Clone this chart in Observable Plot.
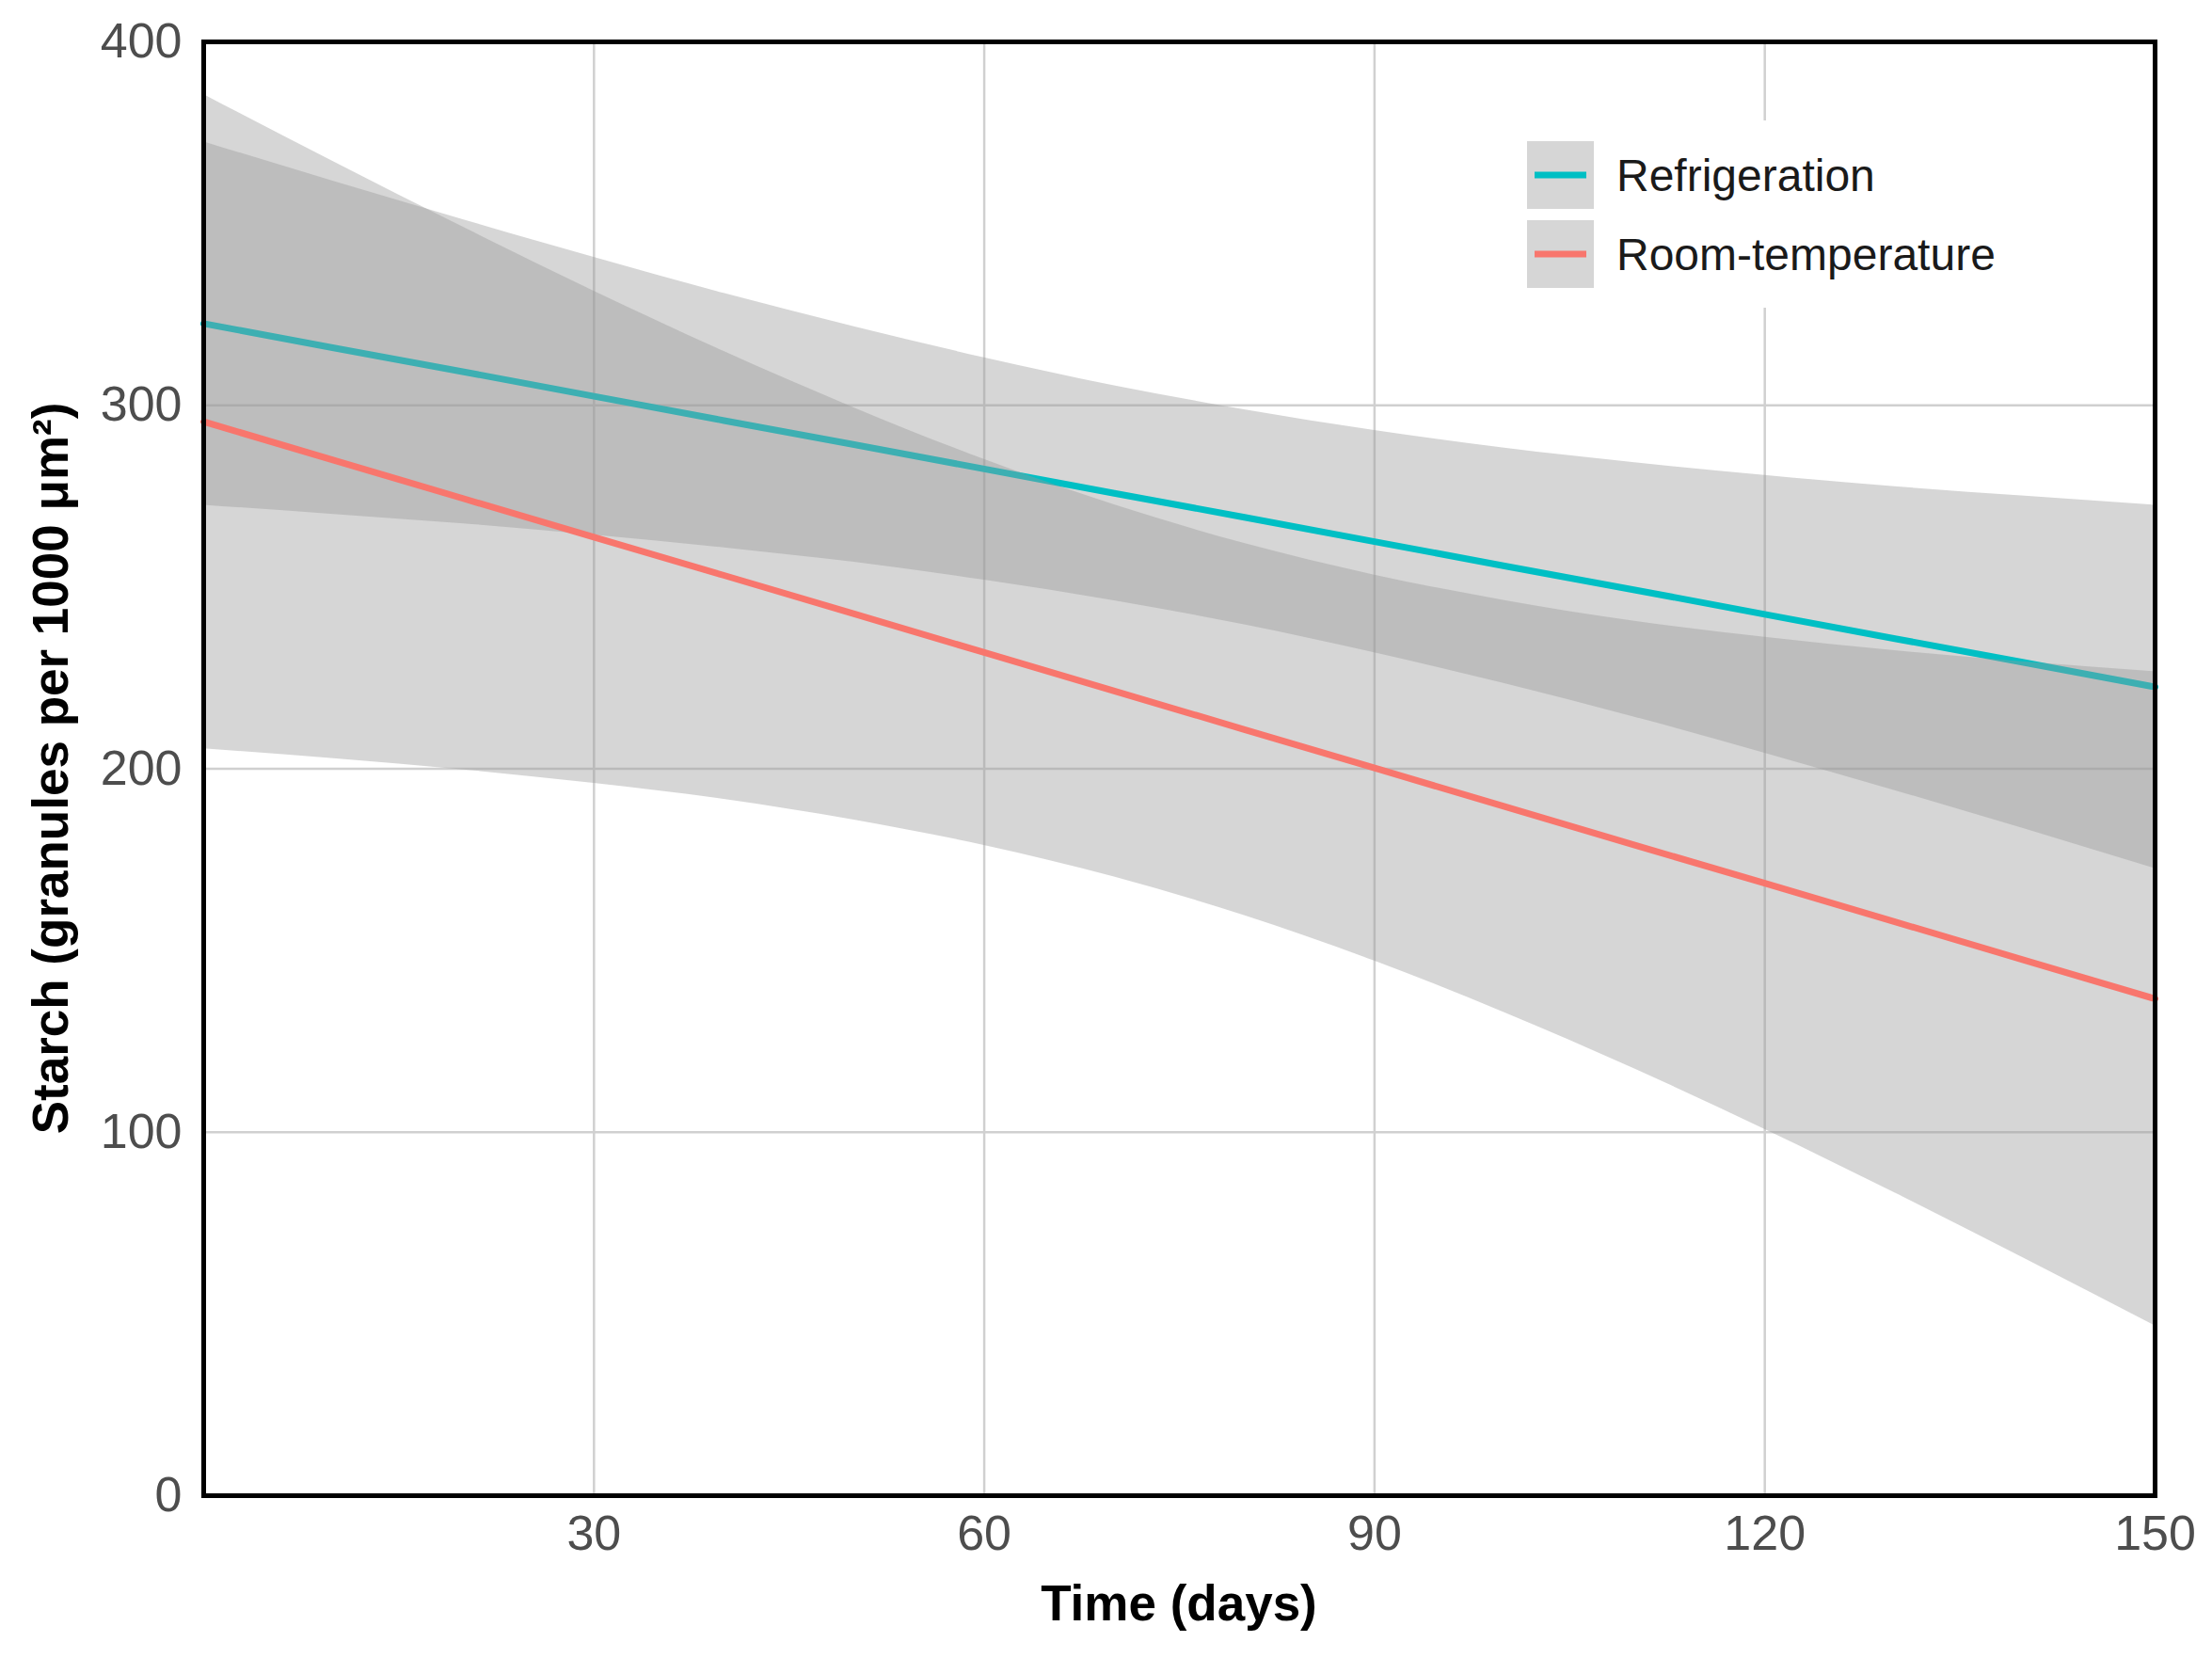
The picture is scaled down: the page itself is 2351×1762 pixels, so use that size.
<!DOCTYPE html>
<html>
<head>
<meta charset="utf-8">
<script src="https://cdn.jsdelivr.net/npm/d3@7"></script>
<script src="https://cdn.jsdelivr.net/npm/@observablehq/plot@0.6"></script>
<style>
  html, body { margin: 0; padding: 0; background: white; }
  #chart svg { display: block; }
</style>
</head>
<body>
<div id="chart"></div>
<script>
// ---- data ----
const seriesNames = ["Refrigeration", "Room-temperature"];
const seriesColors = ["#00BFC4", "#F8766D"];
const days = [0, 10, 20, 30, 40, 50, 60, 70, 80, 90, 100, 110, 120, 130, 140, 150];

const refrigFit   = [322.5, 315.8, 309.2, 302.5, 295.8, 289.2, 282.5, 275.8, 269.2, 262.5, 255.8, 249.2, 242.5, 235.8, 229.2, 222.5];
const refrigUpper = [372.5, 361.6, 351.0, 340.7, 330.8, 321.6, 313.1, 305.4, 298.8, 293.1, 288.2, 284.2, 280.7, 277.6, 275.0, 272.5];
const refrigLower = [272.5, 270.0, 267.4, 264.3, 260.8, 256.8, 251.9, 246.2, 239.6, 231.9, 223.4, 214.2, 204.3, 194.0, 183.4, 172.5];

const roomFit   = [295.5, 284.9, 274.3, 263.7, 253.2, 242.6, 232.0, 221.4, 210.8, 200.2, 189.6, 179.0, 168.5, 157.9, 147.3, 136.7];
const roomUpper = [385.5, 367.0, 348.9, 331.4, 314.8, 299.3, 285.1, 272.6, 262.0, 253.3, 246.3, 240.6, 236.2, 232.5, 229.4, 226.7];
const roomLower = [205.5, 202.8, 199.7, 196.0, 191.6, 185.9, 178.9, 170.2, 159.6, 147.1, 132.9, 117.4, 100.8, 83.3, 65.2, 46.7];

const xTicks = [30, 60, 90, 120, 150];
const yTicks = [0, 100, 200, 300, 400];
const xGrid = [30, 60, 90, 120];
const yGrid = [100, 200, 300];

const xTitle = "Time (days)";
const yTitle = "Starch (granules per 1000 μm²)";

// ---- build tables ----
const refrigRows = days.map((d, i) => ({day: d, fit: refrigFit[i], lo: refrigLower[i], hi: refrigUpper[i], series: seriesNames[0]}));
const roomRows = days.map((d, i) => ({day: d, fit: roomFit[i], lo: roomLower[i], hi: roomUpper[i], series: seriesNames[1]}));

const W = 2351, H = 1762;
const mTop = 44, mBottom = 173, mLeft = 216, mRight = 61;
const font = "'Liberation Sans', Arial, Helvetica, sans-serif";

const svg = Plot.plot({
  width: W,
  height: H,
  marginTop: mTop,
  marginBottom: mBottom,
  marginLeft: mLeft,
  marginRight: mRight,
  style: {fontFamily: font, background: "white"},
  x: {domain: [0, 150]},
  y: {domain: [0, 400]},
  marks: [
    Plot.gridX(xGrid, {stroke: "#d0d0d0", strokeOpacity: 1, strokeWidth: 2.5}),
    Plot.gridY(yGrid, {stroke: "#d0d0d0", strokeOpacity: 1, strokeWidth: 2.5}),
    Plot.areaY(refrigRows, {x: "day", y1: "lo", y2: "hi", fill: "#999999", fillOpacity: 0.4, curve: "monotone-x"}),
    Plot.line(refrigRows, {x: "day", y: "fit", stroke: seriesColors[0], strokeWidth: 7}),
    Plot.areaY(roomRows, {x: "day", y1: "lo", y2: "hi", fill: "#999999", fillOpacity: 0.4, curve: "monotone-x"}),
    Plot.line(roomRows, {x: "day", y: "fit", stroke: seriesColors[1], strokeWidth: 7}),
    Plot.frame({stroke: "black", strokeWidth: 5}),
    Plot.axisX(xTicks, {tickSize: 0, tickPadding: 21, fontSize: 52, color: "#4d4d4d", label: null}),
    Plot.axisY(yTicks, {tickSize: 0, tickPadding: 23, fontSize: 52, color: "#4d4d4d", label: null})
  ]
});

const s = d3.select(svg);
const plotCx = mLeft + (W - mLeft - mRight) / 2;
const plotCy = mTop + (H - mTop - mBottom) / 2;

// axis titles
s.append("text")
  .attr("x", plotCx).attr("y", 1722)
  .attr("text-anchor", "middle")
  .attr("font-family", font).attr("font-size", 53).attr("font-weight", "bold")
  .attr("fill", "#000")
  .text(xTitle);

s.append("text")
  .attr("transform", `translate(53,${plotCy}) rotate(-90)`)
  .attr("text-anchor", "middle")
  .attr("dy", "0.35em")
  .attr("font-family", font).attr("font-size", 53).attr("font-weight", "bold")
  .attr("fill", "#000")
  .text(yTitle);

// legend (inside plot, top right)
const lg = s.append("g");
lg.append("rect").attr("x", 1598).attr("y", 128).attr("width", 560).attr("height", 199).attr("fill", "white");
seriesNames.forEach((name, i) => {
  const y0 = 150 + i * 84;
  lg.append("rect").attr("x", 1623).attr("y", y0).attr("width", 71).attr("height", 72).attr("fill", "#d6d6d6");
  lg.append("line").attr("x1", 1631).attr("x2", 1686).attr("y1", y0 + 36).attr("y2", y0 + 36)
    .attr("stroke", seriesColors[i]).attr("stroke-width", 7);
  lg.append("text").attr("x", 1718).attr("y", y0 + 36).attr("dy", "0.35em")
    .attr("text-anchor", "start")
    .attr("font-family", font).attr("font-size", 48).attr("fill", "#1a1a1a")
    .text(name);
});

document.getElementById("chart").appendChild(svg);
</script>
</body>
</html>
